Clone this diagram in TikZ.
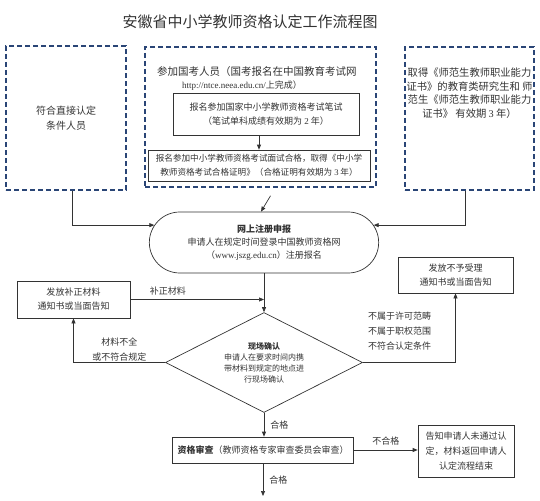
\documentclass[tikz,border=0pt]{standalone}
\usepackage{fontspec}
\setmainfont{Noto Sans CJK SC}
\newfontfamily\latin{Liberation Serif}
\usetikzlibrary{shapes.geometric, shapes.misc, arrows.meta, positioning, calc}

\definecolor{navy}{HTML}{2A4576}
\definecolor{ink}{HTML}{333333}
\newcommand{\cnfont}[2]{\fontsize{#1}{#2}\selectfont}

\begin{document}
\begin{tikzpicture}[
  x=1pt, y=-1pt, color=ink,
  >={Triangle[length=5pt,width=4pt]},
  dashbox/.style={draw=navy, dash pattern=on 5pt off 3pt, line width=1.6pt, rectangle, inner sep=0pt, align=center},
  procbox/.style={draw=ink, rectangle, line width=0.7pt, inner sep=2pt, font=\cnfont{9}{14}, align=center},
  lbl/.style={font=\cnfont{9}{15}, inner sep=1pt, align=center},
  flow/.style={->, line width=0.7pt, ink}
]
\fill[white] (0,0) rectangle (540,500);
\useasboundingbox (0,0) rectangle (540,500);

\node[font=\cnfont{15}{18}] (title) at (250,22) {安徽省中小学教师资格认定工作流程图};

% entry groups
\node[dashbox, minimum width=120, minimum height=144, font=\cnfont{10}{15}] (direct) at (66,118) {符合直接认定\\条件人员};
\node[dashbox, minimum width=231, minimum height=140] (exam) at (260.5,117) {};
\node[dashbox, minimum width=129, minimum height=143] (cert) at (469.5,118.5) {};

\node[font=\cnfont{10.5}{13}, anchor=west, inner sep=0pt] (examhead) at (157,72) {参加国考人员（国考报名在中国教育考试网};
\node[font=\cnfont{9}{13}, inner sep=0pt] (examurl) at (242,86) {{\latin http://ntce.neea.edu.cn/}上完成）};
\node[procbox, minimum width=186, minimum height=42] (written) at (266,114) {报名参加国家中小学教师资格考试笔试\\（笔试单科成绩有效期为 {\latin 2} 年）};
\node[procbox, minimum width=222, minimum height=31, font=\cnfont{8.6}{14}] (interview) at (259,165.5) {报名参加中小学教师资格考试面试合格，取得《中小学\\教师资格考试合格证明》（合格证明有效期为 {\latin 3} 年）};

\node[font=\cnfont{10.3}{13.5}, inner sep=0pt, align=center] (certtext) at (469.5,93) {取得《师范生教师职业能力\\证书》的教育类研究生和 师\\范生《师范生教师职业能力\\证书》 有效期 {\latin 3} 年）};

% main steps
\node[rounded rectangle, draw=ink, line width=0.7pt, minimum width=236, minimum height=61, align=center, font=\cnfont{9}{13}] (online) at (264,242.5) {{\bfseries 网上注册申报}\\申请人在规定时间登录中国教师资格网\\（{\latin www.jszg.edu.cn}）注册报名};
\node[procbox, minimum width=113, minimum height=37] (supply) at (73.5,299.5) {发放补正材料\\通知书或当面告知};
\node[procbox, minimum width=115, minimum height=36] (reject) at (455.5,275) {发放不予受理\\通知书或当面告知};
\node[diamond, draw=ink, line width=0.7pt, aspect=2, minimum width=197, minimum height=100, inner sep=0pt, align=center, font=\cnfont{8}{11}] (confirm) at (264,362.5) {{\bfseries 现场确认}\\申请人在要求时间内携\\带材料到规定的地点进\\行现场确认};
\node[lbl, anchor=west, align=left] (scope) at (367,331) {不属于许可范畴\\不属于职权范围\\不符合认定条件};
\node[procbox, minimum width=181, minimum height=26] (review) at (263,450) {{\bfseries 资格审查}（教师资格专家审查委员会审查）};
\node[procbox, minimum width=96, minimum height=52, font=\cnfont{9}{15}] (notify) at (466,451) {告知申请人未通过认\\定，材料返回申请人\\认定流程结束};
\coordinate (endpt) at (263,496);

% flows
\draw[flow] ([xshift=6]direct.south) |- (online.171);
\draw[flow] ([xshift=-4.5]cert.south) |- (online.9);
\draw[flow] ([xshift=10,yshift=-8]exam.south) -- ([xshift=-3]online.north);
\draw[flow] (written.south -| interview.north) -- (interview.north);
\draw[flow] (online.south) -- (confirm.north);

\draw[flow] (supply.east) -- (supply.east -| confirm.north) node[lbl, pos=0.28, above=3pt] {补正材料};
\draw[flow] (confirm.west) -| (supply.south) node[lbl, pos=0.25, above] {材料不全\\或不符合规定};
\draw[flow] (confirm.east) -| (reject.south);

\draw[flow] (confirm.south) -- (confirm.south |- review.north) node[lbl, midway, right=5pt] {合格};
\draw[flow] (review.east) -- (review.east -| notify.west) node[lbl, midway, above=3pt] {不合格};
\draw[flow] (review.south) -- (endpt) node[lbl, midway, right=5pt] {合格};

\end{tikzpicture}
\end{document}
